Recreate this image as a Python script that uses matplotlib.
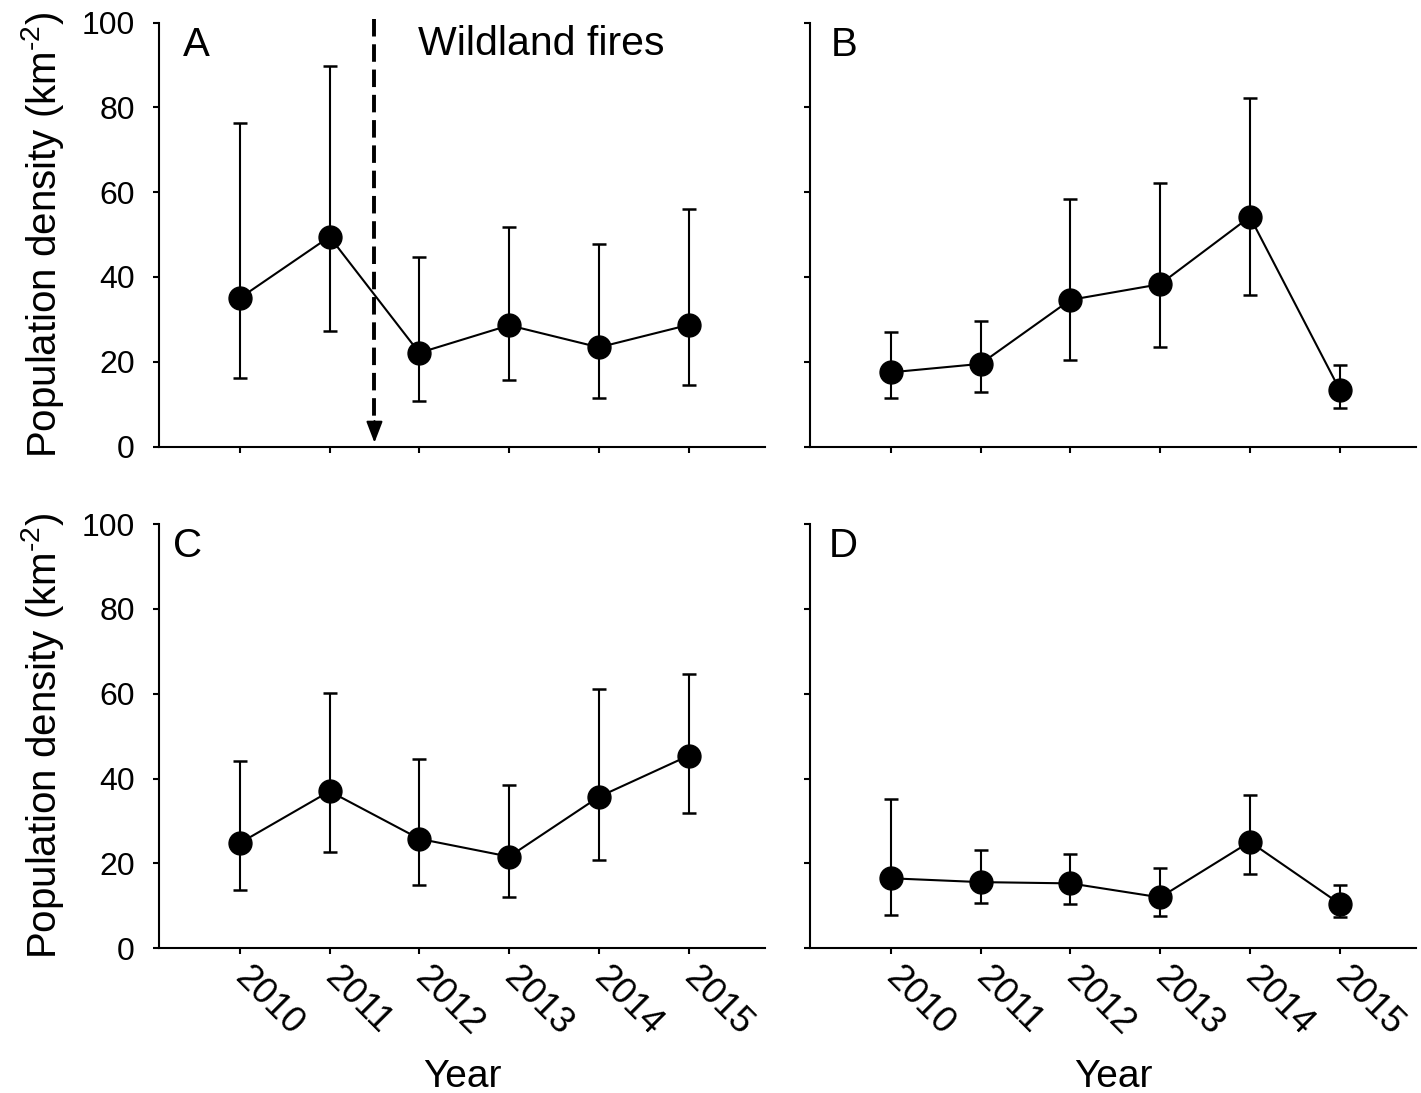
import matplotlib
matplotlib.use("Agg")
import matplotlib.pyplot as plt
import matplotlib.transforms as mtransforms
import numpy as np

plt.rcParams['font.family'] = ['Liberation Sans', 'DejaVu Sans']
plt.rcParams['mathtext.fontset'] = 'custom'
plt.rcParams['mathtext.rm'] = 'Liberation Sans'
plt.rcParams['mathtext.it'] = 'Liberation Sans:italic'
plt.rcParams['mathtext.bf'] = 'Liberation Sans:bold'

years = [2010, 2011, 2012, 2013, 2014, 2015]
year_labels = ['2010', '2011', '2012', '2013', '2014', '2015']
yticks = [0, 20, 40, 60, 80, 100]

# Panel A
a_mean = [35.0, 49.5, 22.1, 28.6, 23.4, 28.7]
a_upper = [76.3, 89.7, 44.8, 51.8, 47.7, 56.0]
a_lower = [16.1, 27.3, 10.8, 15.8, 11.4, 14.6]
# Panel B
b_mean = [17.5, 19.5, 34.6, 38.3, 54.2, 13.4]
b_upper = [27.0, 29.5, 58.5, 62.1, 82.2, 19.3]
b_lower = [11.4, 12.9, 20.3, 23.5, 35.8, 9.2]
# Panel C
c_mean = [24.8, 37.0, 25.8, 21.6, 35.7, 45.4]
c_upper = [44.1, 60.2, 44.5, 38.6, 61.1, 64.7]
c_lower = [13.8, 22.7, 14.9, 12.2, 20.9, 31.9]
# Panel D
d_mean = [16.5, 15.6, 15.3, 12.0, 25.1, 10.5]
d_upper = [35.2, 23.2, 22.2, 18.9, 36.2, 15.0]
d_lower = [7.8, 10.6, 10.4, 7.6, 17.6, 7.4]

fire_year = 2011.5
fire_label = 'Wildland fires'

W, H = 1421, 1093
fig = plt.figure(figsize=(W / 100, H / 100), dpi=100)

def px_ax(left, right, top, bottom):
    return fig.add_axes([left / W, 1 - bottom / H, (right - left) / W, (bottom - top) / H])

axA = px_ax(159, 765, 22.7, 446.5)
axB = px_ax(810, 1416, 22.7, 446.5)
axC = px_ax(159, 765, 524, 948.3)
axD = px_ax(810, 1416, 524, 948.3)

panels = [
    (axA, a_mean, a_upper, a_lower, 'A', 24),
    (axB, b_mean, b_upper, b_lower, 'B', 20.5),
    (axC, c_mean, c_upper, c_lower, 'C', 14),
    (axD, d_mean, d_upper, d_lower, 'D', 18.5),
]

for ax, mean, up, lo, letter, off in panels:
    mean = np.array(mean)
    yerr = np.vstack([mean - np.array(lo), np.array(up) - mean])
    ax.errorbar(years, mean, yerr=yerr, fmt='-o', color='black', ecolor='black',
                lw=1.5, elinewidth=1.5, capsize=4.7, capthick=1.8,
                markersize=16.5, markerfacecolor='black', markeredgecolor='black',
                zorder=3)
    ax.set_xlim(2009.1, 2015.85)
    ax.set_ylim(0, 100)
    ax.set_xticks(years)
    ax.set_yticks(yticks)
    for s in ['top', 'right']:
        ax.spines[s].set_visible(False)
    for s in ['left', 'bottom']:
        ax.spines[s].set_linewidth(1.5)
    ax.tick_params(axis='both', direction='out', length=4.3, width=1.5)
    ax.tick_params(axis='y', pad=13, labelsize=23)
    ax.tick_params(axis='x', pad=13, labelsize=26.5)
    trans = mtransforms.blended_transform_factory(ax.transAxes, ax.transData)
    ax.text(off / 606, 92.2, letter, transform=trans,
            fontsize=29, ha='left', va='baseline')

# y tick labels only on left panels
axB.set_yticklabels([])
axD.set_yticklabels([])
axA.set_yticklabels([str(v) for v in yticks])
axC.set_yticklabels([str(v) for v in yticks])

# x tick labels only on bottom panels
axA.set_xticklabels([])
axB.set_xticklabels([])
for ax in (axC, axD):
    ax.set_xticklabels(year_labels, rotation=-45, ha='left', va='center',
                       rotation_mode='anchor')
    ax.set_xlabel('Year', fontsize=28, va='baseline')
    ax.xaxis.set_label_coords(0.5, (948.3 - 1087) / 424.3)

for ax in (axA, axC):
    ax.set_ylabel(r'Population density (km$^{\text{-}2}$)', fontsize=29)
    ax.yaxis.set_label_coords((66 - 159) / 606, 0.5)

# fire event marker
axA.plot([fire_year, fire_year], [100.8, 5.5], color='black', lw=2.8,
         linestyle=(0, (4.5, 2.0)), clip_on=False, zorder=2)
axA.annotate('', xy=(fire_year, 0.9), xytext=(fire_year, 6.0),
             arrowprops=dict(arrowstyle='-|>,head_length=1.3,head_width=0.5',
                             color='black', lw=1.5, shrinkA=0, shrinkB=0),
             zorder=2)
axA.text(2011.98, 92.4, fire_label, fontsize=29.5, ha='left', va='baseline')

fig.savefig('out.png', dpi=100, facecolor='white')
